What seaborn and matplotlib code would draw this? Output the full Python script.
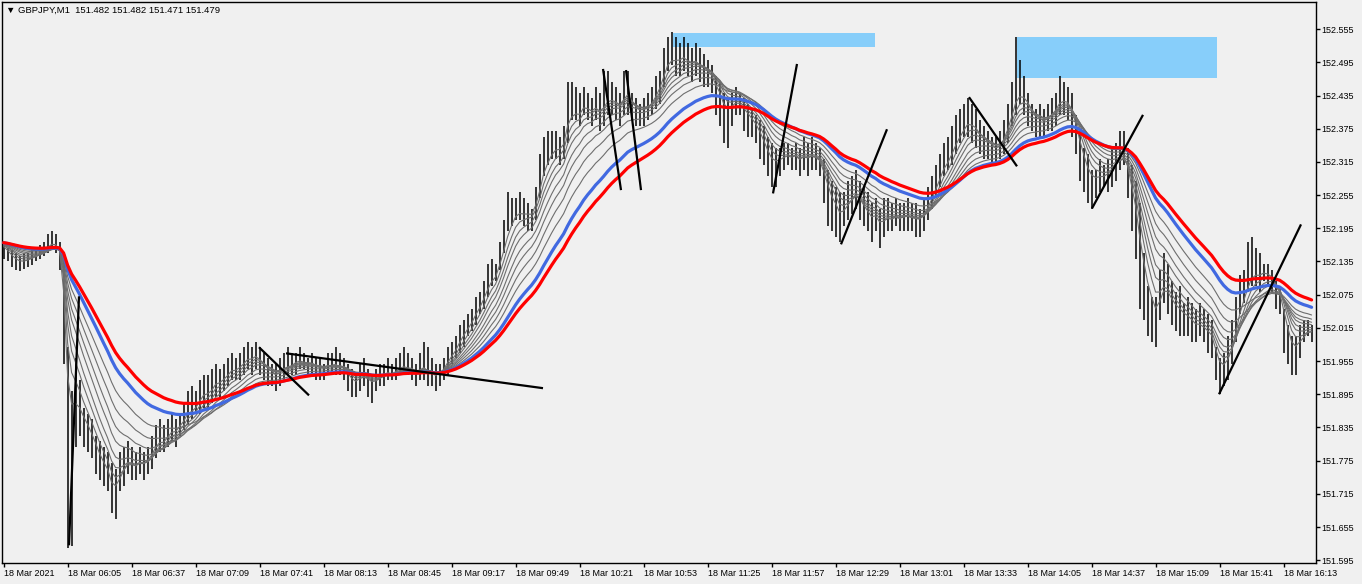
import numpy as np
import pandas as pd
import matplotlib
matplotlib.use("Agg")
import matplotlib.pyplot as plt
import seaborn as sns

# GBPJPY M1, sampled every 2 minutes from 05:33
high = [152.165, 152.160, 152.155, 152.150, 152.145, 152.150, 152.150, 152.155, 152.160, 152.165, 152.170, 152.185, 152.190, 152.185, 152.170,
        152.150, 151.980, 151.900, 151.960, 151.920,
        151.87, 151.86, 151.85, 151.82, 151.81, 151.80, 151.79, 151.77, 151.76,
        151.79, 151.80, 151.81, 151.80, 151.79, 151.80, 151.79, 151.80, 151.82, 151.84,
        151.85, 151.84, 151.85, 151.86, 151.85, 151.86, 151.88, 151.90, 151.91, 151.90, 151.92, 151.93,
        151.93, 151.94, 151.95, 151.94, 151.95, 151.96, 151.97, 151.96, 151.97, 151.98, 151.99,
        151.98, 151.99, 151.98, 151.97, 151.96, 151.95, 151.95, 151.96, 151.97,
        151.98, 151.97, 151.97, 151.98, 151.97, 151.96, 151.97, 151.96,
        151.96, 151.95, 151.97, 151.97, 151.98, 151.97, 151.96,
        151.95, 151.94, 151.93, 151.95, 151.96, 151.94, 151.93, 151.94,
        151.95, 151.95, 151.96, 151.95, 151.96, 151.97, 151.98, 151.97, 151.96, 151.95,
        151.97, 151.99, 151.98, 151.96, 151.95, 151.95,
        151.96, 151.98, 151.99, 152.00, 152.02, 152.03, 152.04,
        152.05, 152.07, 152.08, 152.10, 152.13, 152.14, 152.13, 152.17, 152.21,
        152.26, 152.25, 152.25, 152.26, 152.25, 152.24, 152.23, 152.27,
        152.33, 152.36, 152.37, 152.37, 152.37, 152.36, 152.38, 152.46,
        152.46, 152.45, 152.44, 152.45, 152.44, 152.43, 152.45,
        152.44, 152.48, 152.48, 152.46, 152.45, 152.44,
        152.48, 152.48, 152.44, 152.43, 152.42, 152.43, 152.44, 152.45, 152.47, 152.48, 152.52, 152.54, 152.55,
        152.54, 152.53, 152.54, 152.53, 152.52, 152.53, 152.52, 152.51, 152.50, 152.49,
        152.47, 152.46, 152.44, 152.43, 152.44, 152.45, 152.44,
        152.43, 152.42, 152.41, 152.40, 152.39, 152.38, 152.36, 152.35, 152.34,
        152.34, 152.35, 152.35, 152.34, 152.35, 152.34,
        152.36, 152.35, 152.36, 152.35, 152.34,
        152.32, 152.30, 152.28, 152.27, 152.26,
        152.26, 152.28, 152.29, 152.30, 152.28,
        152.27, 152.26, 152.24, 152.25, 152.23, 152.25,
        152.25, 152.24, 152.25, 152.24, 152.24, 152.25, 152.24, 152.24, 152.23, 152.25,
        152.27, 152.29, 152.31, 152.33, 152.35,
        152.36, 152.38, 152.40, 152.41, 152.42, 152.43, 152.42,
        152.41, 152.39, 152.38, 152.37, 152.36, 152.36, 152.37,
        152.39, 152.42, 152.46, 152.54, 152.50, 152.47,
        152.44, 152.42, 152.41, 152.42, 152.41, 152.42, 152.43, 152.44,
        152.47, 152.46, 152.45, 152.44,
        152.40, 152.37, 152.34, 152.33, 152.30, 152.30, 152.32, 152.31, 152.32, 152.34, 152.35, 152.37, 152.37, 152.34, 152.31,
        152.28, 152.24, 152.15, 152.09, 152.07, 152.07, 152.12, 152.15, 152.13, 152.10, 152.08, 152.09, 152.06, 152.07,
        152.06, 152.05, 152.06, 152.05, 152.04, 152.03, 151.98, 151.96, 151.97, 152.00, 152.03, 152.07, 152.11, 152.12,
        152.17, 152.18, 152.16, 152.15, 152.13, 152.13, 152.12, 152.10, 152.09, 152.05, 152.02, 152.00, 152.00, 152.02,
        152.03, 152.03, 152.02]

low = [152.140, 152.135, 152.125, 152.120, 152.118, 152.122, 152.125, 152.128, 152.135, 152.140, 152.145, 152.150, 152.155, 152.150, 152.120,
       151.950, 151.617, 151.620, 151.800, 151.820,
       151.80, 151.79, 151.78, 151.75, 151.74, 151.73, 151.72, 151.68, 151.67,
       151.72, 151.73, 151.75, 151.74, 151.74, 151.75, 151.74, 151.75, 151.76, 151.78,
       151.79, 151.79, 151.80, 151.81, 151.80, 151.82, 151.83, 151.84, 151.85, 151.86, 151.86, 151.87,
       151.87, 151.88, 151.89, 151.89, 151.90, 151.91, 151.92, 151.92, 151.92, 151.93, 151.94,
       151.93, 151.94, 151.93, 151.92, 151.91, 151.91, 151.90, 151.91, 151.92,
       151.93, 151.93, 151.93, 151.94, 151.94, 151.93, 151.93, 151.92,
       151.92, 151.92, 151.93, 151.93, 151.93, 151.93, 151.92,
       151.90, 151.89, 151.89, 151.90, 151.91, 151.89, 151.88, 151.90,
       151.91, 151.91, 151.92, 151.92, 151.92, 151.93, 151.93, 151.93, 151.92, 151.91,
       151.92, 151.92, 151.91, 151.91, 151.90, 151.91,
       151.92, 151.93, 151.95, 151.96, 151.97, 151.98, 152.00,
       152.01, 152.02, 152.04, 152.05, 152.07, 152.09, 152.10, 152.12, 152.15,
       152.19, 152.20, 152.21, 152.21, 152.20, 152.19, 152.19, 152.21,
       152.25, 152.29, 152.31, 152.32, 152.32, 152.31, 152.32, 152.35,
       152.39, 152.39, 152.38, 152.40, 152.39, 152.38, 152.39,
       152.37, 152.38, 152.40, 152.40, 152.39, 152.38,
       152.40, 152.40, 152.39, 152.38, 152.38, 152.38, 152.39, 152.40, 152.41, 152.42, 152.45, 152.48, 152.49,
       152.47, 152.47, 152.48, 152.47, 152.46, 152.47, 152.46, 152.45, 152.45, 152.44,
       152.40, 152.38, 152.35, 152.34, 152.38, 152.40, 152.40,
       152.37, 152.36, 152.36, 152.35, 152.32, 152.31, 152.29, 152.27, 152.27,
       152.29, 152.30, 152.31, 152.30, 152.30, 152.29,
       152.30, 152.29, 152.30, 152.30, 152.29,
       152.24, 152.20, 152.19, 152.18, 152.17,
       152.20, 152.21, 152.22, 152.23, 152.21,
       152.20, 152.19, 152.17, 152.19, 152.16, 152.18,
       152.19, 152.19, 152.20, 152.19, 152.19, 152.19, 152.19, 152.18, 152.18, 152.19,
       152.21, 152.23, 152.25, 152.27, 152.29,
       152.30, 152.31, 152.33, 152.35, 152.36, 152.36, 152.35,
       152.34, 152.33, 152.32, 152.32, 152.31, 152.31, 152.32,
       152.33, 152.35, 152.38, 152.40, 152.42, 152.40,
       152.38, 152.37, 152.36, 152.36, 152.36, 152.37, 152.37, 152.38,
       152.40, 152.40, 152.39, 152.36,
       152.33, 152.28, 152.26, 152.24, 152.23, 152.25, 152.26, 152.27, 152.26, 152.27, 152.28, 152.30, 152.31, 152.25, 152.19,
       152.14, 152.05, 152.03, 152.00, 151.99, 151.98, 152.03, 152.06, 152.04, 152.02, 152.01, 152.00, 152.00, 152.00,
       151.99, 151.99, 152.00, 151.99, 151.97, 151.96, 151.92, 151.895, 151.91, 151.92, 151.95, 151.99, 152.04, 152.06,
       152.08, 152.09, 152.09, 152.08, 152.10, 152.09, 152.08, 152.05, 152.04, 151.97, 151.95, 151.93, 151.93, 151.96,
       151.99, 152.00, 151.99]

close = [152.150, 152.145, 152.135, 152.130, 152.130, 152.135, 152.140, 152.145, 152.150, 152.155, 152.160, 152.170, 152.175, 152.165, 152.140,
         151.97, 151.70, 151.80, 151.88, 151.86,
         151.83, 151.82, 151.80, 151.78, 151.76, 151.75, 151.74, 151.70, 151.72,
         151.76, 151.78, 151.79, 151.77, 151.76, 151.78, 151.77, 151.78, 151.80, 151.82,
         151.82, 151.81, 151.83, 151.84, 151.83, 151.85, 151.86, 151.88, 151.87, 151.88, 151.90, 151.91,
         151.90, 151.91, 151.93, 151.92, 151.93, 151.94, 151.95, 151.94, 151.95, 151.96, 151.97,
         151.96, 151.97, 151.95, 151.94, 151.93, 151.93, 151.92, 151.94, 151.95,
         151.95, 151.95, 151.96, 151.96, 151.95, 151.95, 151.95, 151.94,
         151.94, 151.94, 151.95, 151.95, 151.95, 151.94, 151.94,
         151.92, 151.91, 151.91, 151.93, 151.93, 151.92, 151.91, 151.92,
         151.93, 151.94, 151.94, 151.93, 151.94, 151.95, 151.95, 151.94, 151.94, 151.93,
         151.94, 151.95, 151.93, 151.93, 151.92, 151.94,
         151.95, 151.97, 151.98, 151.99, 152.01, 152.02, 152.03,
         152.04, 152.06, 152.07, 152.09, 152.11, 152.12, 152.12, 152.16, 152.19,
         152.22, 152.23, 152.24, 152.23, 152.22, 152.22, 152.22, 152.26,
         152.30, 152.34, 152.34, 152.35, 152.35, 152.34, 152.36, 152.43,
         152.42, 152.41, 152.40, 152.43, 152.41, 152.40, 152.42,
         152.40, 152.42, 152.44, 152.43, 152.42, 152.41,
         152.44, 152.45, 152.41, 152.40, 152.40, 152.41, 152.42, 152.43, 152.45, 152.47, 152.50, 152.52, 152.51,
         152.50, 152.50, 152.51, 152.49, 152.49, 152.50, 152.48, 152.48, 152.47, 152.46,
         152.43, 152.42, 152.39, 152.40, 152.42, 152.43, 152.42,
         152.40, 152.39, 152.38, 152.37, 152.35, 152.33, 152.31, 152.30, 152.31,
         152.32, 152.33, 152.33, 152.32, 152.33, 152.31,
         152.33, 152.32, 152.33, 152.32, 152.31,
         152.27, 152.24, 152.22, 152.22, 152.20,
         152.23, 152.25, 152.26, 152.27, 152.24,
         152.22, 152.21, 152.20, 152.22, 152.19, 152.21,
         152.22, 152.21, 152.22, 152.21, 152.22, 152.22, 152.21, 152.21, 152.21, 152.23,
         152.25, 152.27, 152.29, 152.31, 152.33,
         152.33, 152.35, 152.37, 152.38, 152.39, 152.40, 152.38,
         152.37, 152.35, 152.35, 152.34, 152.34, 152.33, 152.35,
         152.37, 152.40, 152.43, 152.46, 152.45, 152.43,
         152.41, 152.39, 152.38, 152.39, 152.38, 152.40, 152.41, 152.42,
         152.44, 152.43, 152.42, 152.39,
         152.35, 152.31, 152.29, 152.27, 152.27, 152.28, 152.29, 152.29, 152.30, 152.31, 152.33, 152.34, 152.33, 152.28, 152.22,
         152.18, 152.10, 152.07, 152.04, 152.03, 152.02, 152.08, 152.11, 152.08, 152.05, 152.04, 152.04, 152.03, 152.03,
         152.02, 152.01, 152.02, 152.01, 152.00, 151.99, 151.94, 151.92, 151.94, 151.97, 152.00, 152.05, 152.09, 152.10,
         152.12, 152.13, 152.12, 152.11, 152.12, 152.11, 152.10, 152.07, 152.06, 152.00, 151.97, 151.95, 151.97, 152.00,
         152.01, 152.02, 152.01]

prior_close = 152.17  # level of the averages before the visible window

# moving averages (spans in 2-minute bars)
grey_spans = [4, 6, 8, 10, 13, 16, 20, 25]
blue_span = 33
red_span = 40

time_labels = ["18 Mar 2021", "18 Mar 06:05", "18 Mar 06:37", "18 Mar 07:09", "18 Mar 07:41",
               "18 Mar 08:13", "18 Mar 08:45", "18 Mar 09:17", "18 Mar 09:49", "18 Mar 10:21",
               "18 Mar 10:53", "18 Mar 11:25", "18 Mar 11:57", "18 Mar 12:29", "18 Mar 13:01",
               "18 Mar 13:33", "18 Mar 14:05", "18 Mar 14:37", "18 Mar 15:09", "18 Mar 15:41",
               "18 Mar 16:13"]
price_ticks = [152.555, 152.495, 152.435, 152.375, 152.315, 152.255, 152.195, 152.135, 152.075,
               152.015, 151.955, 151.895, 151.835, 151.775, 151.715, 151.655, 151.595]

# hand-drawn objects: (minute, price) pairs
trend_t0 = [32.7, 127.7, 141.2, 299.7, 311.2, 384.7, 418.7, 482.7, 544.2, 607.7]
trend_p0 = [151.622, 151.980, 151.969, 152.483, 152.481, 152.258, 152.166, 152.432, 152.231, 151.895]
trend_t1 = [37.7, 152.7, 269.7, 308.7, 318.7, 396.7, 441.7, 506.7, 569.7, 648.7]
trend_p1 = [152.072, 151.893, 151.906, 152.264, 152.264, 152.492, 152.374, 152.307, 152.400, 152.202]
zone_t0 = [334.7, 506.7]
zone_t1 = [435.7, 606.7]
zone_lo = [152.522, 152.466]
zone_hi = [152.548, 152.541]

sns.set_theme(style="ticks")
plt.rcParams["font.family"] = ["Liberation Sans", "DejaVu Sans"]

bars = pd.DataFrame({"high": high, "low": low, "close": close})
bars["minute"] = np.arange(len(bars)) * 2

seeded = pd.concat([pd.Series([prior_close]), bars["close"]], ignore_index=True)


def ema(span):
    return seeded.ewm(span=span, adjust=False).mean().iloc[1:].to_numpy()


bg = "#F0F0F0"
fig = plt.figure(figsize=(13.62, 5.84), dpi=100, facecolor=bg)
ax = fig.add_axes([2 / 1362, 21 / 584, 1314 / 1362, 561 / 584])
ax.set_facecolor(bg)

for t0, t1, lo, hi in zip(zone_t0, zone_t1, zone_lo, zone_hi):
    ax.fill_between([t0, t1], lo, hi, color="#87CEFA", lw=0, zorder=1)

ax.vlines(bars["minute"], bars["low"], bars["high"], color="black", lw=1.1, zorder=2)

for s in grey_spans:
    sns.lineplot(x=bars["minute"], y=ema(s), ax=ax, color="#6E6E6E", lw=0.8, zorder=3)
sns.lineplot(x=bars["minute"], y=ema(blue_span), ax=ax, color="#4169E1", lw=2.3, zorder=4)
sns.lineplot(x=bars["minute"], y=ema(red_span), ax=ax, color="#FF0000", lw=2.3, zorder=5)

for t0, p0, t1, p1 in zip(trend_t0, trend_p0, trend_t1, trend_p1):
    ax.plot([t0, t1], [p0, p1], color="black", lw=1.6, zorder=6, solid_capstyle="butt")

ax.set_xlim(-0.8, 656.2)
ax.set_ylim(151.590, 152.604)
ax.set_xlabel("")
ax.set_ylabel("")

ax.yaxis.tick_right()
ax.set_yticks(price_ticks)
ax.set_yticklabels([f"{p:.3f}" for p in price_ticks])
ax.set_xticks(np.arange(len(time_labels)) * 32)
ax.set_xticklabels(time_labels)
for lab in ax.get_xticklabels():
    lab.set_horizontalalignment("left")
ax.tick_params(axis="both", direction="out", length=3, width=1, color="black",
               labelsize=6.5, labelcolor="black")
ax.tick_params(axis="y", pad=1)
ax.tick_params(axis="x", pad=1.5)

for sp in ax.spines.values():
    sp.set_visible(True)
    sp.set_color("black")
    sp.set_linewidth(1)

fig.text(6 / 1362, 1 - 10 / 584, "\u25bc GBPJPY,M1  151.482 151.482 151.471 151.479",
         fontsize=6.8, va="center", ha="left", color="black")

fig.savefig("out.png", dpi=100, facecolor=bg)
